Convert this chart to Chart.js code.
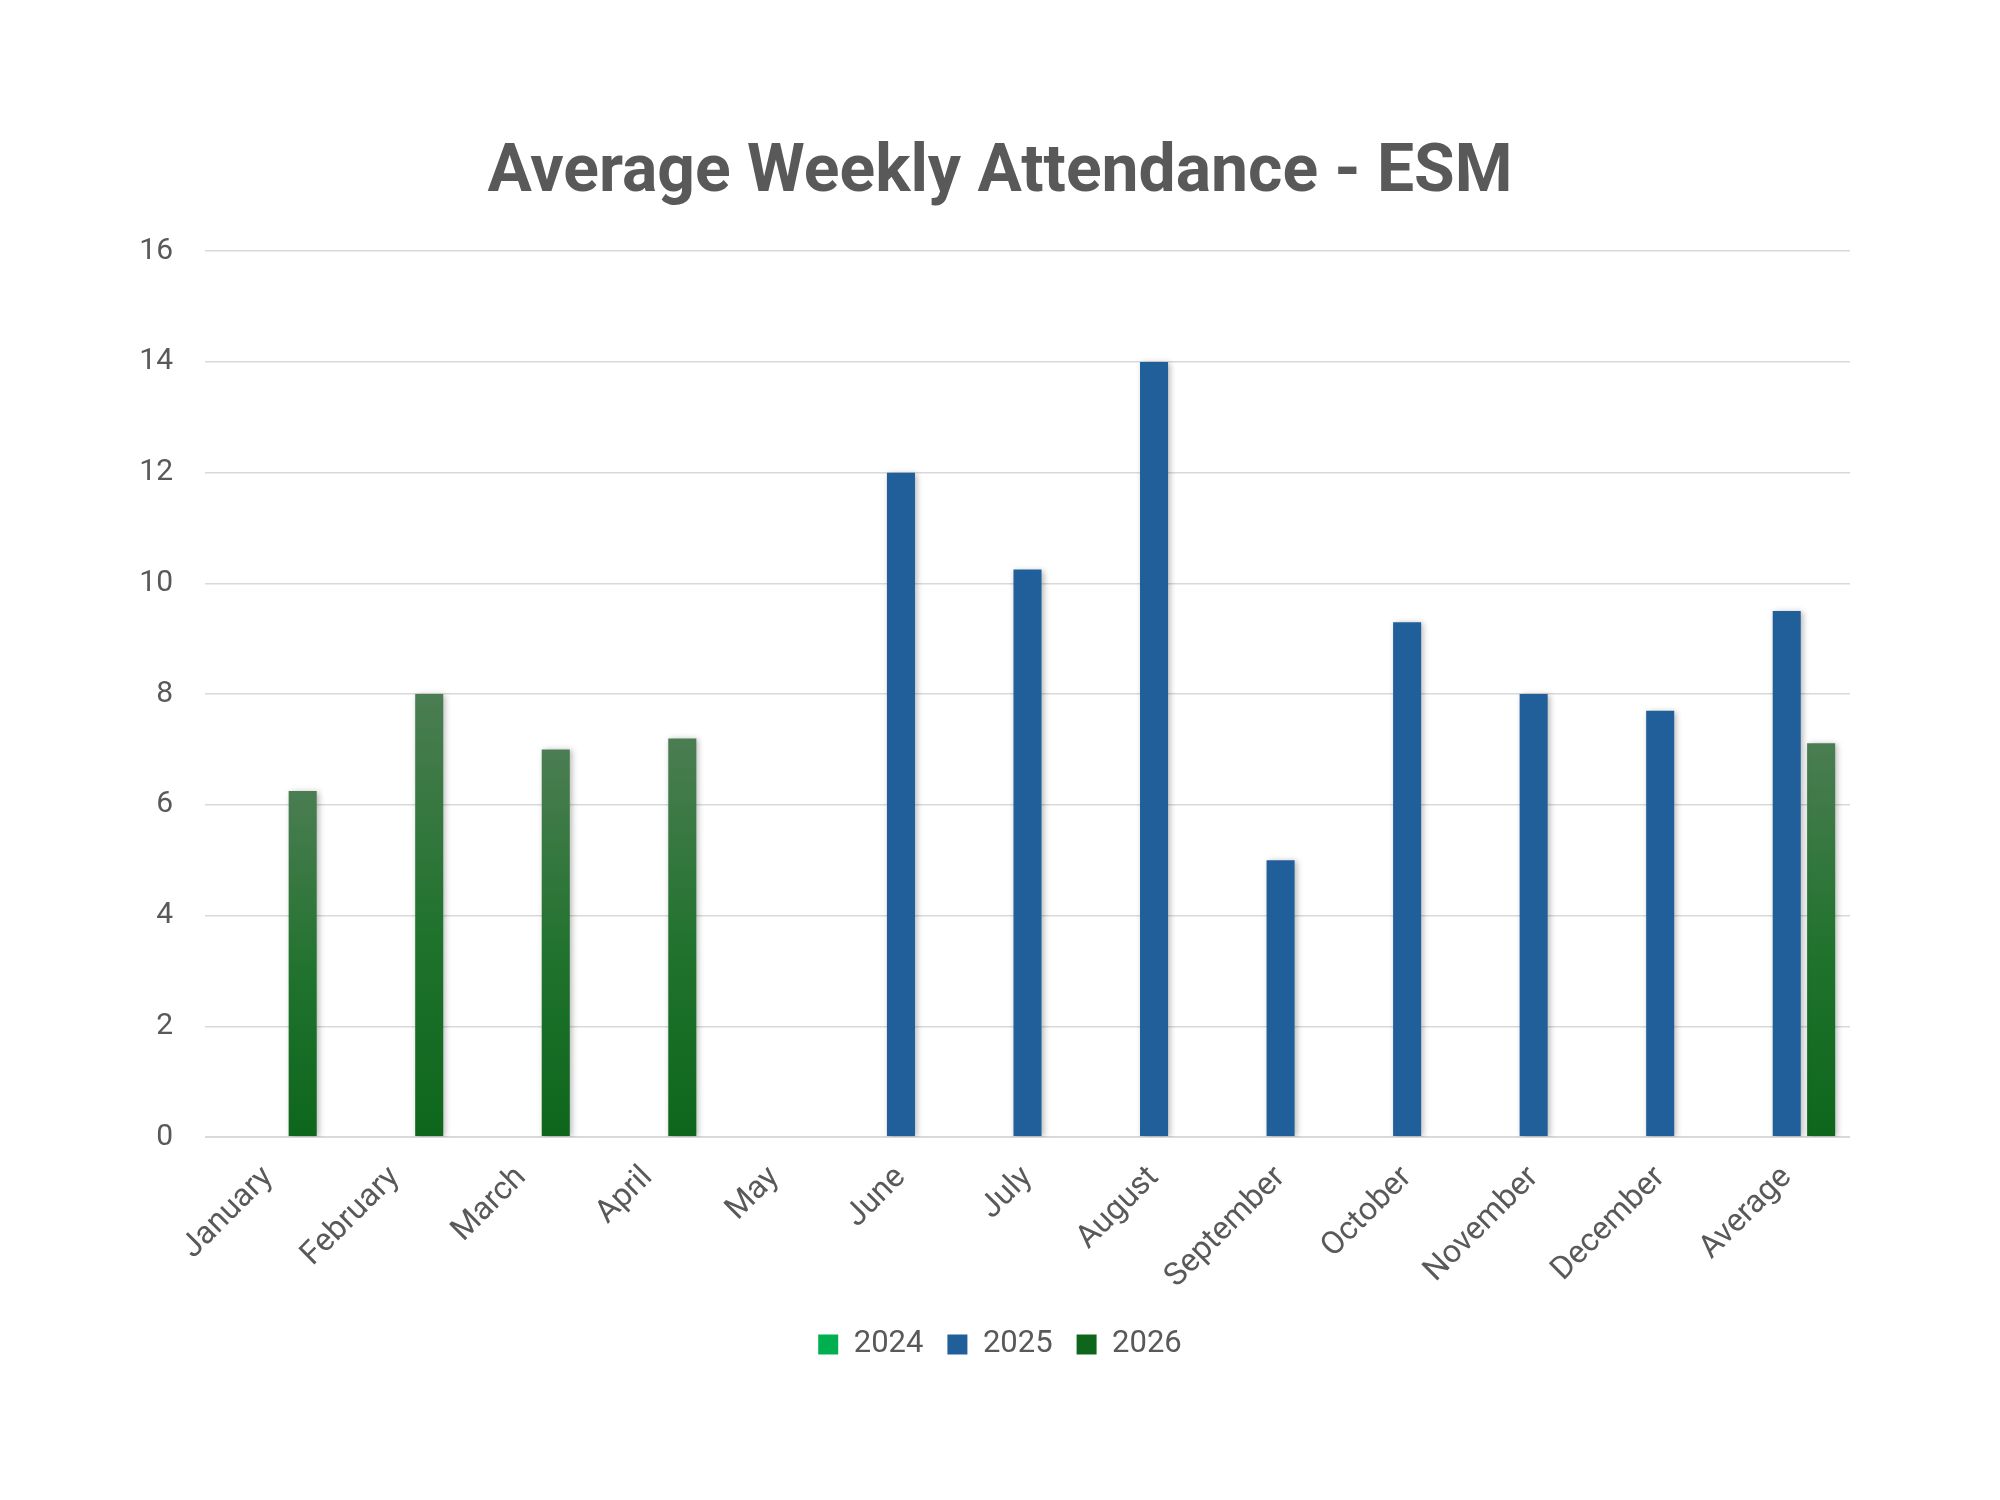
<!DOCTYPE html>
<html>
<head>
<meta charset="utf-8">
<title>Average Weekly Attendance - ESM</title>
<script src="https://cdn.jsdelivr.net/npm/chart.js@4.4.1/dist/chart.umd.min.js"></script>
<style>
  html, body { margin: 0; padding: 0; background: #fff; }
  #wrap { width: 2000px; height: 1500px; position: relative; }
</style>
</head>
<body>
<div id="wrap"><canvas id="chart"></canvas></div>
<script>
// chart data
const months = ['January','February','March','April','May','June','July',
  'August','September','October','November','December','Average'];
const att2024 = [null,null,null,null,null,null,null,null,null,null,null,null,null];
const att2025 = [null,null,null,null,null,12,10.25,14,5,9.3,8,7.7,9.5];
const att2026 = [6.25,8,7,7.2,null,null,null,null,null,null,null,null,7.11];
const yTicks = [0,2,4,6,8,10,12,14,16];

const grey = '#595959';
const font = 'Roboto, "Open Sans", sans-serif';

// per-bar vertical gradient for the 2026 series (light top, dark bottom)
function greenFill(c){
  const chart = c.chart, y = chart.scales.y;
  if (c.type !== 'data' || !y || c.raw == null) return '#1c6a2a';
  const top = y.getPixelForValue(c.raw), base = y.getPixelForValue(0);
  if (!isFinite(top) || !isFinite(base)) return '#1c6a2a';
  const g = chart.ctx.createLinearGradient(0, top, 0, base);
  g.addColorStop(0, '#4b7d52');
  g.addColorStop(0.55, '#1f722c');
  g.addColorStop(1, '#0e661c');
  return g;
}

// soft shadow behind the bars
const barShadow = {
  id: 'barShadow',
  beforeDatasetsDraw(chart){
    const ctx = chart.ctx; ctx.save();
    ctx.shadowColor = 'rgba(0,0,0,0.28)'; ctx.shadowBlur = 6;
    ctx.shadowOffsetX = 2; ctx.shadowOffsetY = 1;
  },
  afterDatasetsDraw(chart){ chart.ctx.restore(); }
};

new Chart(document.getElementById('chart'), {
  type: 'bar',
  data: {
    labels: months,
    datasets: [
      {label:'2024', data:att2024, backgroundColor:'#00b050'},
      {label:'2025', data:att2025, backgroundColor:'#215f9a'},
      {label:'2026', data:att2026, backgroundColor:greenFill}
    ]
  },
  options: {
    responsive: true, maintainAspectRatio: false, devicePixelRatio: 1, animation: false,
    datasets: { bar: { categoryPercentage: 0.816, barPercentage: 0.815, borderWidth: 0 } },
    layout: { padding: { left: 0, right: 0, top: 0, bottom: 130 } },
    plugins: {
      title: {
        display: true, text: 'Average Weekly Attendance - ESM', color: grey,
        font: { family: font, size: 66, weight: 'bold' },
        padding: { top: 135, bottom: 37 }
      },
      legend: {
        position: 'bottom',
        labels: {
          color: grey, boxWidth: 20, boxHeight: 20, padding: 24,
          font: { family: font, size: 31 }
        }
      },
      tooltip: { enabled: false }
    },
    scales: {
      x: {
        grid: { display: false, drawTicks: false },
        border: { display: false },
        ticks: { color: grey, font: { family: font, size: 32 }, minRotation: 45, maxRotation: 45, padding: 22 },
        afterFit: s => { s.height = 168; }
      },
      y: {
        min: 0, max: 16,
        afterBuildTicks: s => { s.ticks = yTicks.map(v => ({value: v})); },
        grid: { color: '#d9d9d9', lineWidth: c => c.tick && c.tick.value === 0 ? 2 : 1.5, drawTicks: false },
        border: { display: false },
        ticks: { color: grey, font: { family: font, size: 30 }, padding: 32 },
        afterFit: s => { s.width = 205; }
      },
      // empty spacer on the right so the title stays centred on the page
      pad: {
        type: 'linear', position: 'right', display: true,
        grid: { display: false, drawTicks: false }, border: { display: false },
        ticks: { display: false },
        afterFit: s => { s.width = 150; }
      }
    }
  },
  plugins: [barShadow]
});
</script>
</body>
</html>
